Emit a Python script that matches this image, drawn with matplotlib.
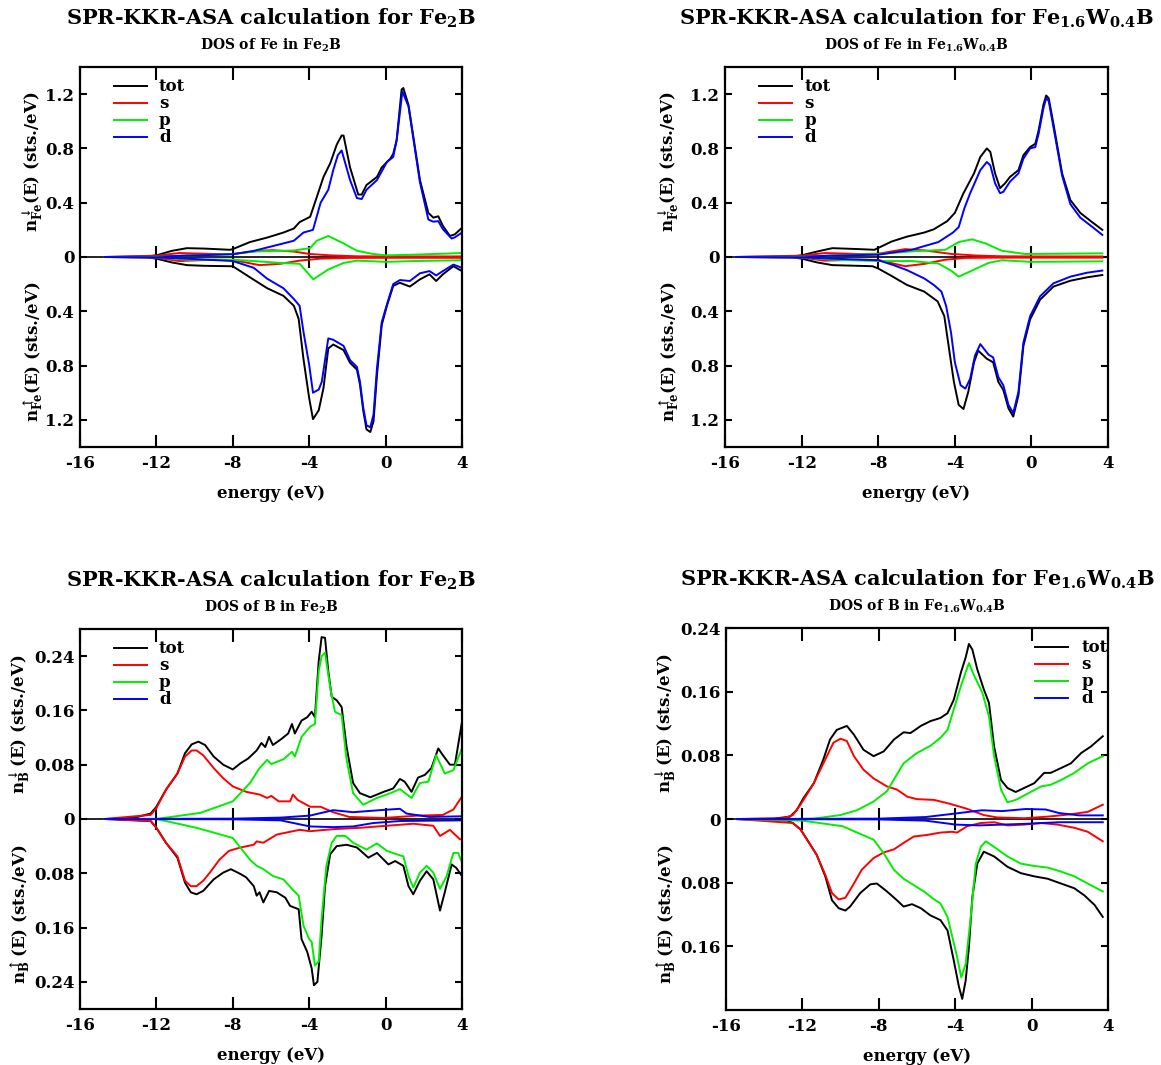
import matplotlib.pyplot as plt
from matplotlib.ticker import FuncFormatter

plt.rcParams['font.family'] = 'DejaVu Serif'
plt.rcParams['font.weight'] = 'bold'
plt.rcParams['axes.labelweight'] = 'bold'
plt.rcParams['axes.unicode_minus'] = False
plt.rcParams['mathtext.fontset'] = 'custom'
plt.rcParams['mathtext.rm'] = 'DejaVu Serif:bold'
plt.rcParams['mathtext.it'] = 'DejaVu Serif:bold'
plt.rcParams['mathtext.bf'] = 'DejaVu Serif:bold'

ORBITALS = ['tot', 's', 'p', 'd']
COLORS = {'tot': 'black', 's': '#ff0000', 'p': '#00ee00', 'd': '#0000ff'}

# each curve: (energy in eV, DOS in sts./eV)

# ---- Fe in Fe2B ----
fe_fe2b_dn_tot = ([-14.7, -12.5, -12, -11.2, -10.4, -9.5, -8.15, -8, -7.1, -6.2, -5.35, -4.8, -4.5, -3.95, -3.7, -3.25, -2.9, -2.55, -2.3, -2.2, -1.86, -1.43, -1.25, -1.0, -0.45, -0.2, 0.25, 0.4, 0.58, 0.84, 0.93, 1.2, 1.8, 2.24, 2.5, 2.76, 3.0, 3.37, 3.63, 4.0],
                  [0, 0.003, 0.012, 0.045, 0.065, 0.062, 0.053, 0.058, 0.11, 0.143, 0.18, 0.21, 0.257, 0.296, 0.40, 0.59, 0.69, 0.83, 0.895, 0.895, 0.66, 0.46, 0.46, 0.53, 0.59, 0.66, 0.725, 0.76, 0.86, 1.234, 1.245, 1.12, 0.567, 0.325, 0.29, 0.30, 0.23, 0.155, 0.167, 0.215])
fe_fe2b_dn_s = ([-14.7, -12, -10.8, -9, -8, -6.6, -5.9, -4.8, -3.96, -2.9, -1.5, 0, 4.0],
                [0, 0.01, 0.029, 0.022, 0.022, 0.046, 0.05, 0.04, 0.022, 0.012, 0.005, 0.004, 0.004])
fe_fe2b_dn_p = ([-14.7, -12, -10.4, -9, -8, -6.9, -4.8, -3.96, -3.6, -3.0, -2.2, -1.5, -0.65, 0.05, 1.45, 4.0],
                [0, 0.002, 0.012, 0.017, 0.022, 0.04, 0.048, 0.065, 0.12, 0.155, 0.10, 0.046, 0.022, 0.012, 0.017, 0.029])
fe_fe2b_dn_d = ([-14.7, -12, -10.4, -8, -6.9, -6.2, -5.35, -4.8, -4.3, -3.8, -3.4, -3.0, -2.74, -2.5, -2.3, -1.86, -1.5, -1.25, -1.0, -0.45, 0.07, 0.4, 0.58, 0.88, 1.2, 1.8, 2.24, 2.5, 2.76, 3.0, 3.46, 3.63, 4.0],
                [0, 0.002, 0.01, 0.02, 0.045, 0.07, 0.1, 0.12, 0.18, 0.20, 0.40, 0.495, 0.64, 0.75, 0.785, 0.567, 0.434, 0.427, 0.495, 0.567, 0.70, 0.737, 0.86, 1.22, 1.11, 0.55, 0.276, 0.26, 0.264, 0.205, 0.136, 0.145, 0.18])
fe_fe2b_up_tot = ([-14.7, -12.5, -12, -11.2, -10.4, -9.5, -8.15, -8, -7.1, -6.2, -5.35, -4.8, -4.55, -4.3, -4.0, -3.8, -3.5, -3.25, -3.0, -2.74, -2.2, -1.86, -1.5, -1.34, -1.17, -1.0, -0.8, -0.63, -0.45, -0.2, 0.07, 0.4, 0.75, 1.27, 1.8, 2.3, 2.65, 3.0, 3.55, 4.0],
                  [0, 0.003, 0.012, 0.04, 0.06, 0.065, 0.068, 0.068, 0.15, 0.23, 0.286, 0.36, 0.456, 0.75, 1.04, 1.195, 1.13, 0.965, 0.674, 0.645, 0.686, 0.78, 0.83, 0.94, 1.13, 1.27, 1.29, 1.21, 0.87, 0.50, 0.36, 0.213, 0.19, 0.218, 0.165, 0.128, 0.177, 0.128, 0.068, 0.104])
fe_fe2b_up_s = ([-14.7, -12, -10.8, -9, -8, -6.6, -5.5, -4.5, -3.4, -2, 0, 4.0],
                [0, 0.005, 0.03, 0.02, 0.022, 0.06, 0.05, 0.027, 0.012, 0.007, 0.006, 0.006])
fe_fe2b_up_p = ([-14.7, -12, -10.4, -8, -6.9, -5.5, -4.5, -3.78, -3.0, -2.2, -1.5, 0.05, 1.45, 4.0],
                [0, 0.002, 0.02, 0.02, 0.03, 0.044, 0.05, 0.165, 0.092, 0.044, 0.027, 0.036, 0.03, 0.024])
fe_fe2b_up_d = ([-14.7, -12, -10.4, -8, -6.9, -6.2, -5.35, -4.8, -4.5, -4.3, -4.0, -3.8, -3.5, -3.34, -3.0, -2.74, -2.2, -1.86, -1.5, -1.34, -1.17, -1.0, -0.8, -0.63, -0.45, -0.2, 0.07, 0.4, 0.75, 1.27, 1.8, 2.3, 2.65, 3.0, 3.55, 4.0],
                [0, 0.003, 0.012, 0.03, 0.08, 0.16, 0.23, 0.31, 0.36, 0.55, 0.795, 1.0, 0.977, 0.92, 0.60, 0.61, 0.655, 0.76, 0.81, 0.92, 1.11, 1.24, 1.255, 1.16, 0.82, 0.48, 0.35, 0.20, 0.17, 0.177, 0.12, 0.104, 0.136, 0.104, 0.056, 0.08])

# ---- Fe in Fe1.6W0.4B ----
fe_few_dn_tot = ([-15.45, -12.5, -12, -11.2, -10.4, -9.0, -8.2, -7.3, -6.5, -5.6, -5.1, -4.4, -4.0, -3.55, -3.0, -2.67, -2.33, -2.15, -1.9, -1.64, -1.38, -1.12, -0.68, -0.42, -0.07, 0.2, 0.37, 0.63, 0.77, 0.9, 1.15, 1.6, 2.03, 2.55, 3.1, 3.7],
                 [0, 0.003, 0.012, 0.04, 0.065, 0.058, 0.053, 0.114, 0.15, 0.18, 0.204, 0.264, 0.325, 0.47, 0.616, 0.737, 0.80, 0.775, 0.616, 0.507, 0.543, 0.59, 0.64, 0.75, 0.81, 0.834, 0.93, 1.125, 1.19, 1.17, 0.98, 0.616, 0.42, 0.325, 0.264, 0.2])
fe_few_dn_s = ([-15.45, -12, -10.8, -9, -8, -6.6, -5.55, -4.16, -2.8, -1.5, 0, 3.7],
               [0, 0.01, 0.029, 0.022, 0.024, 0.058, 0.048, 0.022, 0.01, 0.005, 0.004, 0.004])
fe_few_dn_p = ([-15.45, -12, -10.4, -8, -6.25, -4.5, -3.8, -3.1, -2.4, -1.55, -0.33, 1.4, 3.7],
               [0, 0.002, 0.012, 0.022, 0.041, 0.053, 0.11, 0.13, 0.10, 0.046, 0.022, 0.024, 0.027])
fe_few_dn_d = ([-15.45, -12, -10.4, -8, -6.25, -5.6, -4.86, -4.1, -3.8, -3.5, -3.2, -2.67, -2.33, -2.15, -1.9, -1.64, -1.47, -1.12, -0.68, -0.42, -0.07, 0.2, 0.37, 0.63, 0.77, 0.9, 1.15, 1.6, 2.03, 2.55, 3.1, 3.7],
               [0, 0.002, 0.01, 0.017, 0.053, 0.08, 0.11, 0.18, 0.22, 0.36, 0.47, 0.64, 0.70, 0.676, 0.543, 0.47, 0.48, 0.555, 0.616, 0.725, 0.80, 0.81, 0.906, 1.10, 1.17, 1.15, 0.955, 0.60, 0.39, 0.29, 0.23, 0.163])
fe_few_up_tot = ([-15.45, -12.5, -12, -11.2, -10.4, -8.3, -8, -7.3, -6.5, -5.6, -4.9, -4.55, -4.3, -4.05, -3.8, -3.55, -3.3, -3.0, -2.78, -2.33, -2.0, -1.73, -1.47, -1.2, -0.95, -0.68, -0.42, -0.07, 0.45, 1.15, 2.03, 2.9, 3.7],
                 [0, 0.003, 0.012, 0.04, 0.06, 0.068, 0.085, 0.14, 0.206, 0.255, 0.327, 0.436, 0.68, 0.92, 1.09, 1.12, 0.994, 0.776, 0.69, 0.75, 0.776, 0.92, 0.98, 1.115, 1.176, 1.02, 0.655, 0.46, 0.315, 0.218, 0.175, 0.15, 0.133])
fe_few_up_s = ([-15.45, -12, -10.8, -9, -8, -6.6, -5.55, -4.5, -3.47, -2, 0, 3.7],
               [0, 0.005, 0.027, 0.02, 0.022, 0.068, 0.05, 0.02, 0.007, 0.005, 0.005, 0.005])
fe_few_up_p = ([-15.45, -12, -10.4, -8, -6.25, -4.86, -4.16, -3.8, -3.1, -2.25, -1.55, 0, 3.7],
               [0, 0.002, 0.02, 0.03, 0.03, 0.048, 0.104, 0.145, 0.10, 0.044, 0.024, 0.036, 0.032])
fe_few_up_d = ([-15.45, -12, -10.4, -8, -7.2, -6.5, -5.6, -5.1, -4.7, -4.45, -4.2, -4.0, -3.7, -3.45, -3.2, -2.95, -2.67, -2.24, -2.0, -1.73, -1.47, -1.2, -0.95, -0.68, -0.42, -0.07, 0.45, 1.15, 2.03, 2.9, 3.7],
               [0, 0.003, 0.012, 0.024, 0.06, 0.097, 0.158, 0.206, 0.255, 0.364, 0.557, 0.776, 0.945, 0.97, 0.897, 0.727, 0.642, 0.72, 0.74, 0.885, 0.945, 1.09, 1.15, 0.994, 0.63, 0.436, 0.29, 0.194, 0.145, 0.116, 0.10])

# ---- B in Fe2B ----
b_fe2b_dn_tot = ([-14.7, -13.2, -12.3, -12, -11.5, -10.9, -10.5, -10.15, -9.8, -9.45, -9.0, -8.5, -8.0, -7.6, -7.2, -6.75, -6.5, -6.3, -6.1, -5.9, -5.45, -5.1, -4.9, -4.75, -4.4, -4.1, -3.87, -3.7, -3.5, -3.35, -3.17, -3.0, -2.82, -2.56, -2.3, -2.04, -1.7, -1.34, -0.8, -0.1, 0.4, 0.75, 1.0, 1.36, 1.7, 2.06, 2.4, 2.76, 3.0, 3.37, 3.63, 4.0],
                 [0, 0.0015, 0.008, 0.018, 0.043, 0.067, 0.097, 0.11, 0.114, 0.109, 0.092, 0.08, 0.073, 0.082, 0.089, 0.101, 0.112, 0.106, 0.121, 0.109, 0.118, 0.126, 0.14, 0.126, 0.145, 0.15, 0.158, 0.15, 0.233, 0.268, 0.267, 0.218, 0.18, 0.175, 0.165, 0.106, 0.053, 0.038, 0.032, 0.04, 0.045, 0.059, 0.055, 0.04, 0.061, 0.065, 0.075, 0.104, 0.094, 0.08, 0.08, 0.143])
b_fe2b_dn_s = ([-14.7, -12.3, -12, -11.5, -10.9, -10.5, -10.15, -9.9, -9.55, -9.0, -8.5, -8.0, -7.3, -6.6, -6.2, -5.98, -5.6, -5.0, -4.85, -4.6, -3.95, -3.4, -2.75, -1.9, -0.1, 1.7, 3.0, 3.55, 4.0],
               [0, 0.006, 0.016, 0.043, 0.067, 0.092, 0.101, 0.101, 0.094, 0.075, 0.06, 0.048, 0.04, 0.036, 0.031, 0.034, 0.026, 0.026, 0.036, 0.028, 0.018, 0.018, 0.01, 0.003, 0.0015, 0.005, 0.006, 0.014, 0.033])
b_fe2b_dn_p = ([-14.7, -12, -9.7, -8.0, -7.1, -6.6, -6.2, -5.98, -5.35, -4.9, -4.75, -4.4, -3.95, -3.7, -3.5, -3.35, -3.17, -2.9, -2.65, -2.3, -2.04, -1.7, -1.17, -0.45, 0.25, 0.75, 1.36, 1.8, 2.24, 2.65, 3.1, 3.55, 4.0],
               [0, 0.0, 0.009, 0.026, 0.053, 0.075, 0.087, 0.081, 0.088, 0.099, 0.092, 0.121, 0.136, 0.14, 0.218, 0.24, 0.245, 0.194, 0.158, 0.153, 0.087, 0.038, 0.021, 0.031, 0.038, 0.044, 0.031, 0.053, 0.055, 0.094, 0.067, 0.072, 0.104])
b_fe2b_dn_d = ([-14.7, -8, -5.5, -3.96, -2.74, -1.7, -0.3, 0.75, 1.1, 2.3, 4.0],
               [0, 0.0005, 0.002, 0.005, 0.013, 0.01, 0.013, 0.015, 0.008, 0.003, 0.004])
b_fe2b_up_tot = ([-14.7, -12.3, -12, -11.5, -10.9, -10.5, -10.2, -9.9, -9.55, -9.0, -8.5, -8.1, -7.6, -7.3, -6.9, -6.75, -6.6, -6.4, -6.1, -5.7, -5.25, -5.0, -4.83, -4.55, -4.4, -4.1, -3.87, -3.75, -3.57, -3.35, -3.17, -2.9, -2.56, -2.04, -1.5, -0.9, -0.45, 0.15, 0.5, 0.93, 1.2, 1.45, 1.8, 2.15, 2.5, 2.85, 3.1, 3.46, 3.7, 4.0],
                 [0, 0.003, 0.013, 0.035, 0.057, 0.094, 0.108, 0.111, 0.106, 0.089, 0.079, 0.074, 0.081, 0.086, 0.099, 0.113, 0.108, 0.123, 0.106, 0.108, 0.116, 0.128, 0.13, 0.133, 0.177, 0.196, 0.22, 0.245, 0.24, 0.172, 0.099, 0.052, 0.04, 0.038, 0.042, 0.057, 0.05, 0.067, 0.062, 0.069, 0.099, 0.111, 0.091, 0.077, 0.089, 0.135, 0.108, 0.067, 0.072, 0.084])
b_fe2b_up_s = ([-14.7, -12.3, -12, -11.5, -10.9, -10.5, -10.2, -9.9, -9.55, -9.2, -8.7, -8.2, -7.6, -6.9, -6.75, -6.4, -5.7, -5.2, -4.5, -3.96, -2.74, -1.34, 0.05, 1.45, 2.5, 2.85, 3.37, 3.9, 4.0],
               [0, 0.003, 0.013, 0.035, 0.055, 0.091, 0.099, 0.099, 0.091, 0.079, 0.06, 0.047, 0.042, 0.038, 0.033, 0.035, 0.023, 0.02, 0.016, 0.018, 0.015, 0.013, 0.01, 0.007, 0.01, 0.025, 0.016, 0.03, 0.03])
b_fe2b_up_p = ([-14.7, -12, -9.9, -8, -7.1, -6.75, -6.4, -5.9, -5.35, -4.9, -4.55, -4.3, -4.0, -3.87, -3.7, -3.5, -3.35, -3.1, -2.82, -2.56, -2.1, -1.7, -1.0, -0.45, 0.07, 0.58, 0.93, 1.2, 1.45, 1.8, 2.15, 2.5, 2.85, 3.2, 3.55, 3.8, 4.0],
               [0, 0.0, 0.013, 0.028, 0.06, 0.069, 0.074, 0.084, 0.089, 0.103, 0.113, 0.157, 0.177, 0.181, 0.216, 0.21, 0.147, 0.069, 0.035, 0.025, 0.025, 0.035, 0.045, 0.036, 0.047, 0.052, 0.055, 0.084, 0.101, 0.079, 0.069, 0.079, 0.103, 0.084, 0.05, 0.05, 0.064])
b_fe2b_up_d = ([-14.7, -8, -5.5, -3.96, -2.74, -1.7, -0.65, 0.75, 4.0],
               [0, 0.0005, 0.002, 0.011, 0.012, 0.011, 0.006, 0.003, 0.002])

# ---- B in Fe1.6W0.4B ----
b_few_dn_tot = ([-15.45, -13.5, -12.65, -12.3, -11.95, -11.4, -10.9, -10.55, -10.2, -9.67, -9.3, -8.8, -8.27, -7.74, -7.2, -6.7, -6.34, -5.8, -5.3, -4.77, -4.4, -4.07, -3.7, -3.45, -3.28, -3.1, -2.84, -2.5, -2.23, -1.96, -1.6, -1.26, -0.83, -0.39, 0.14, 0.66, 1.0, 1.54, 2.06, 2.6, 3.1, 3.73],
                [0, 0.0005, 0.003, 0.011, 0.026, 0.045, 0.075, 0.1, 0.112, 0.117, 0.106, 0.087, 0.079, 0.085, 0.1, 0.109, 0.108, 0.117, 0.123, 0.127, 0.133, 0.15, 0.184, 0.203, 0.22, 0.213, 0.188, 0.163, 0.146, 0.091, 0.049, 0.039, 0.034, 0.039, 0.045, 0.058, 0.058, 0.064, 0.07, 0.083, 0.091, 0.104])
b_few_dn_s = ([-15.45, -13.0, -12.5, -12.1, -11.4, -10.9, -10.37, -10.0, -9.67, -9.3, -8.8, -8.27, -7.57, -7.05, -6.5, -6.0, -5.1, -4.25, -3.4, -2.5, -1.8, -0.39, 0.84, 2.06, 2.94, 3.73],
              [0, 0.001, 0.005, 0.018, 0.045, 0.07, 0.096, 0.101, 0.098, 0.079, 0.062, 0.051, 0.041, 0.037, 0.028, 0.025, 0.024, 0.019, 0.013, 0.005, 0.002, 0.001, 0.003, 0.006, 0.009, 0.018])
b_few_dn_p = ([-15.45, -12.3, -11.4, -10.0, -9.15, -8.27, -7.57, -6.7, -6.0, -5.3, -4.77, -4.4, -4.07, -3.7, -3.28, -3.0, -2.58, -2.23, -1.96, -1.6, -1.26, -0.83, -0.2, 0.5, 1.0, 1.54, 2.24, 2.94, 3.73],
              [0, 0.0, 0.0005, 0.005, 0.011, 0.022, 0.035, 0.07, 0.083, 0.092, 0.102, 0.112, 0.138, 0.167, 0.196, 0.18, 0.159, 0.129, 0.079, 0.037, 0.021, 0.024, 0.032, 0.041, 0.043, 0.049, 0.058, 0.07, 0.079])
b_few_dn_d = ([-15.45, -8, -5.55, -3.97, -2.6, -1.53, -0.3, 0.74, 1.45, 2.5, 3.73],
              [0, 0.0005, 0.0025, 0.007, 0.011, 0.01, 0.0126, 0.012, 0.0075, 0.0046, 0.0046])
b_few_up_tot = ([-15.45, -12.8, -12.5, -12.1, -11.8, -11.25, -10.8, -10.45, -10.1, -9.75, -9.5, -8.97, -8.44, -8.1, -7.57, -7.05, -6.7, -6.26, -5.8, -5.3, -4.77, -4.4, -4.07, -3.8, -3.63, -3.45, -3.28, -3.1, -2.84, -2.5, -1.96, -1.26, -0.56, 0.14, 0.84, 1.54, 2.24, 2.77, 3.3, 3.73],
                [0, 0.002, 0.005, 0.013, 0.024, 0.045, 0.072, 0.102, 0.112, 0.115, 0.11, 0.093, 0.082, 0.081, 0.091, 0.102, 0.11, 0.107, 0.112, 0.121, 0.127, 0.14, 0.178, 0.211, 0.226, 0.203, 0.161, 0.098, 0.056, 0.041, 0.047, 0.06, 0.068, 0.072, 0.075, 0.081, 0.087, 0.096, 0.108, 0.123])
b_few_up_s = ([-15.45, -12.5, -12.1, -11.25, -10.8, -10.45, -10.1, -9.75, -9.3, -8.9, -8.27, -7.74, -7.2, -6.7, -6.17, -5.47, -4.77, -4.15, -3.9, -3.37, -2.66, -1.96, -1.26, -0.39, 0.5, 1.37, 2.24, 2.94, 3.73],
              [0, 0.005, 0.013, 0.045, 0.07, 0.093, 0.101, 0.099, 0.081, 0.064, 0.049, 0.042, 0.038, 0.03, 0.022, 0.02, 0.017, 0.016, 0.017, 0.009, 0.005, 0.004, 0.008, 0.007, 0.005, 0.007, 0.011, 0.016, 0.028])
b_few_up_p = ([-15.45, -12, -9.9, -8.27, -7.74, -7.2, -6.7, -6.17, -5.64, -5.1, -4.77, -4.4, -4.15, -3.9, -3.68, -3.45, -3.2, -2.92, -2.66, -2.4, -1.96, -1.26, -0.56, 0.14, 0.84, 1.54, 2.24, 2.94, 3.73],
              [0, 0.002, 0.009, 0.026, 0.043, 0.064, 0.075, 0.083, 0.091, 0.101, 0.106, 0.123, 0.148, 0.173, 0.199, 0.182, 0.127, 0.056, 0.035, 0.028, 0.035, 0.047, 0.056, 0.059, 0.061, 0.066, 0.072, 0.081, 0.091])
b_few_up_d = ([-15.45, -8, -5.55, -3.97, -2.75, -1.53, -0.3, 1.45, 3.73],
              [0, 0.0005, 0.002, 0.007, 0.008, 0.007, 0.006, 0.004, 0.004])

FE_TICKS = [-1.2, -0.8, -0.4, 0, 0.4, 0.8, 1.2]
B1_TICKS = [-0.24, -0.16, -0.08, 0, 0.08, 0.16, 0.24]
B2_TICKS = [-0.16, -0.08, 0, 0.08, 0.16, 0.24]
E_TICKS = [-16, -12, -8, -4, 0, 4]

TITLE_FE2B = r'SPR-KKR-ASA calculation for Fe$_2$B'
TITLE_FEWB = r'SPR-KKR-ASA calculation for Fe$_{1.6}$W$_{0.4}$B'


def dos_panel(rect, dn, up, ymax, yticks, title, subtitle, atom, ylab_x, leg_right=False):
    ax = fig.add_axes(rect)
    for name, (e, v) in zip(ORBITALS, dn):
        ax.plot(e, v, color=COLORS[name], lw=1.4, label=name)
    for name, (e, v) in zip(ORBITALS, up):
        ax.plot(e, [-x for x in v], color=COLORS[name], lw=1.4)

    ax.set_xlim(-16, 4)
    ax.set_ylim(-ymax, ymax)
    ax.set_xticks(E_TICKS)
    ax.set_yticks(yticks)
    ax.yaxis.set_major_formatter(FuncFormatter(lambda v, p: f'{abs(v):g}'))
    ax.tick_params(axis='x', direction='in', length=9, width=1.5, top=True,
                   labelsize=12, pad=6)
    ax.tick_params(axis='y', direction='in', length=5, width=1.5, right=True,
                   labelsize=12, pad=4)
    for sp in ax.spines.values():
        sp.set_linewidth(1.6)

    # zero line with its own crossing ticks
    zero = ax.secondary_xaxis(0.5)
    zero.set_xticks([-12, -8, -4, 0])
    zero.tick_params(direction='inout', length=16, width=1.5,
                     labeltop=False, labelbottom=False)
    for sp in zero.spines.values():
        sp.set_linewidth(1.2)

    ax.set_xlabel('energy (eV)', fontsize=12, labelpad=9)
    ax.text(0.5, 1.11, title, transform=ax.transAxes, ha='center',
            va='baseline', fontsize=15)
    ax.text(0.5, 1.045, subtitle, transform=ax.transAxes, ha='center',
            va='baseline', fontsize=10)
    lab = r'$\mathrm{n}^{\%s}_{\mathrm{%s}}\mathrm{(E)}$ (sts./eV)'
    ax.text(ylab_x, 0.75, lab % ('downarrow', atom),
            transform=ax.transAxes, rotation=90, ha='center', va='center', fontsize=12)
    ax.text(ylab_x, 0.25, lab % ('uparrow', atom),
            transform=ax.transAxes, rotation=90, ha='center', va='center', fontsize=12)

    if leg_right:
        ax.legend(loc='upper right', bbox_to_anchor=(1.0, 0.97), frameon=False,
                  fontsize=12, borderpad=0, borderaxespad=0, labelspacing=0.0,
                  handlelength=2.0, handletextpad=0.8)
    else:
        ax.legend(loc='upper left', bbox_to_anchor=(0.089, 0.97), frameon=False,
                  fontsize=12, borderpad=0, borderaxespad=0, labelspacing=0.0,
                  handlelength=2.0, handletextpad=0.7)
    return ax


fig = plt.figure(figsize=(11.61, 10.65), dpi=100)

dos_panel([0.0689, 0.5803, 0.329, 0.3568],
          [fe_fe2b_dn_tot, fe_fe2b_dn_s, fe_fe2b_dn_p, fe_fe2b_dn_d],
          [fe_fe2b_up_tot, fe_fe2b_up_s, fe_fe2b_up_p, fe_fe2b_up_d],
          1.4, FE_TICKS, TITLE_FE2B, r'DOS of Fe in Fe$_2$B', 'Fe', -0.123)
dos_panel([0.6245, 0.5803, 0.3299, 0.3568],
          [fe_few_dn_tot, fe_few_dn_s, fe_few_dn_p, fe_few_dn_d],
          [fe_few_up_tot, fe_few_up_s, fe_few_up_p, fe_few_up_d],
          1.4, FE_TICKS, TITLE_FEWB, r'DOS of Fe in Fe$_{1.6}$W$_{0.4}$B', 'Fe', -0.146)
dos_panel([0.0689, 0.0526, 0.329, 0.3568],
          [b_fe2b_dn_tot, b_fe2b_dn_s, b_fe2b_dn_p, b_fe2b_dn_d],
          [b_fe2b_up_tot, b_fe2b_up_s, b_fe2b_up_p, b_fe2b_up_d],
          0.28, B1_TICKS, TITLE_FE2B, r'DOS of B in Fe$_2$B', 'B', -0.158)
dos_panel([0.6253, 0.0516, 0.329, 0.3587],
          [b_few_dn_tot, b_few_dn_s, b_few_dn_p, b_few_dn_d],
          [b_few_up_tot, b_few_up_s, b_few_up_p, b_few_up_d],
          0.24, B2_TICKS, TITLE_FEWB, r'DOS of B in Fe$_{1.6}$W$_{0.4}$B', 'B', -0.158,
          leg_right=True)

fig.savefig('out.png', dpi=100)
